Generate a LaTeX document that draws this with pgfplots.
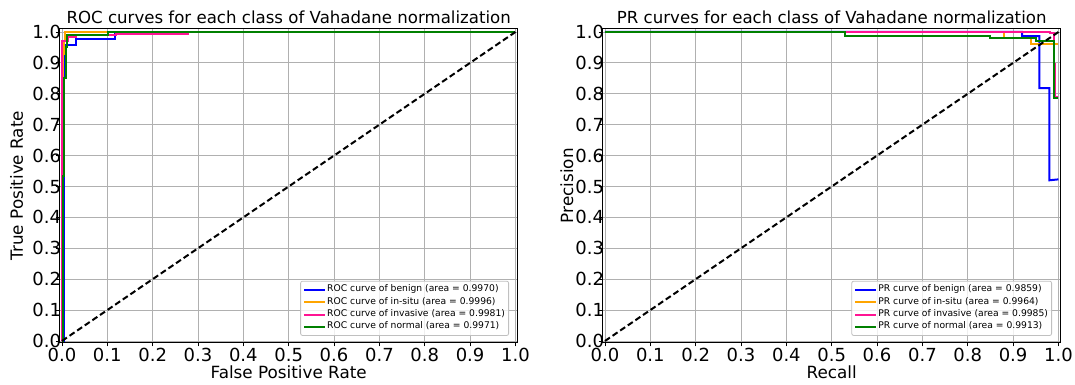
\documentclass[border=0pt]{standalone}
\usepackage{fontspec}
\setmainfont{DejaVu Sans}
\usepackage{pgfplots}
\pgfplotsset{compat=1.18}
\definecolor{mblue}{RGB}{0,0,255}
\definecolor{morange}{RGB}{255,165,0}
\definecolor{mpink}{RGB}{255,20,147}
\definecolor{mgreen}{RGB}{0,128,0}
\definecolor{gridgray}{RGB}{176,176,176}
\pgfplotsset{
  myax/.style={
    scale only axis, width=229pt, height=156.8pt,
    xmin=-0.005, xmax=1.005, ymin=-0.005, ymax=1.01,
    xtick={0,0.1,...,1.0}, ytick={0,0.1,...,1.0},
    xticklabel style={inner sep=0.8pt, /pgf/number format/fixed,/pgf/number format/fixed zerofill,/pgf/number format/precision=1},
    yticklabel style={inner sep=0.5pt, xshift=3.4pt, /pgf/number format/fixed,/pgf/number format/fixed zerofill,/pgf/number format/precision=1},
    /pgf/number format/assume math mode=true,
    tick label style={font=\fontsize{9}{11}\selectfont},
    every axis x label/.style={at={(axis description cs:0.5,-0.094)}, anchor=center, text depth=0pt, font=\fontsize{8.4}{10}\selectfont},
    every axis title/.style={at={(axis description cs:0.5,1)}, anchor=base, yshift=2.8pt, font=\fontsize{8.3}{10}\selectfont},
    grid=major, major grid style={gridgray, line width=0.4pt},
    tick align=outside, major tick length=2pt, tick style={black, line width=0.4pt},
    axis line style={line width=0.5pt},
    xtick pos=bottom, ytick pos=left,
    legend cell align=left,
    legend style={at={(rel axis cs:0.981,0.021)}, anchor=south east,
      font=\fontsize{4.6}{5.6}\selectfont, draw=gridgray!80, fill=white, fill opacity=0.8, text opacity=1,
      rounded corners=1pt, row sep=0pt, inner sep=1.2pt, nodes={inner sep=0.6pt}},
    legend image code/.code={\draw[#1, line width=1pt] (0pt,0pt) -- (10.5pt,0pt);},
    every axis plot/.append style={line width=1pt},
  }
}
\begin{document}
\begin{tikzpicture}
\begin{axis}[myax, at={(29.85pt,21.25pt)}, anchor=south west,
  every axis y label/.style={at={(axis description cs:-0.094,0.5)}, rotate=90, anchor=center, font=\fontsize{8.4}{10}\selectfont},
  title={ROC curves for each class of Vahadane normalization},
  xlabel={False Positive Rate}, ylabel={True Positive Rate}]
\addplot[mblue] coordinates {(0,0)(0.004,0)(0.004,0.90)(0.006,0.90)(0.006,0.958)(0.030,0.958)(0.030,0.977)(0.117,0.977)(0.117,0.995)(0.120,0.995)(0.120,1)(1,1)};
\addlegendentry{ROC curve of benign (area = 0.9970)}
\addplot[morange] coordinates {(0,0)(0.002,0)(0.002,0.93)(0.004,0.93)(0.004,0.97)(0.007,0.97)(0.007,1)(1,1)};
\addlegendentry{ROC curve of in-situ (area = 0.9996)}
\addplot[mpink] coordinates {(0,0)(0.001,0)(0.001,0.97)(0.014,0.97)(0.014,0.985)(0.030,0.985)(0.030,0.99)(0.120,0.99)(0.120,0.995)(0.278,0.995)(0.278,1)(1,1)};
\addlegendentry{ROC curve of invasive (area = 0.9981)}
\addplot[mgreen] coordinates {(0,0)(0.003,0)(0.003,0.534)(0.005,0.534)(0.005,0.852)(0.009,0.852)(0.009,0.95)(0.012,0.95)(0.012,0.99)(0.101,0.99)(0.101,1)(1,1)};
\addlegendentry{ROC curve of normal (area = 0.9971)}
\addplot[black, dashed, dash pattern=on 3pt off 1.6pt, forget plot] coordinates {(0,0)(1,1)};
\end{axis}
\begin{axis}[myax, at={(301.35pt,21.25pt)}, anchor=south west,
  every axis y label/.style={at={(axis description cs:-0.078,0.5)}, rotate=90, anchor=center, font=\fontsize{8.4}{10}\selectfont},
  title={PR curves for each class of Vahadane normalization},
  xlabel={Recall}, ylabel={Precision}]
\addplot[mblue] coordinates {(0,1)(0.92,1)(0.92,0.987)(0.958,0.987)(0.958,0.818)(0.98,0.818)(0.98,0.52)(1,0.523)};
\addlegendentry{PR curve of benign (area = 0.9859)}
\addplot[morange] coordinates {(0,1)(0.88,1)(0.88,0.979)(0.94,0.979)(0.94,0.961)(1,0.961)};
\addlegendentry{PR curve of in-situ (area = 0.9964)}
\addplot[mpink] coordinates {(0,1)(0.982,1)(0.982,0.997)(0.991,0.997)(0.991,0.895)(0.993,0.895)(0.993,0.79)(1,0.79)};
\addlegendentry{PR curve of invasive (area = 0.9985)}
\addplot[mgreen] coordinates {(0,1)(0.53,1)(0.53,0.988)(0.85,0.988)(0.85,0.982)(0.95,0.982)(0.95,0.972)(0.99,0.972)(0.99,0.785)(1,0.785)};
\addlegendentry{PR curve of normal (area = 0.9913)}
\addplot[black, dashed, dash pattern=on 3pt off 1.6pt, forget plot] coordinates {(0,0)(1,1)};
\end{axis}
\pgfresetboundingbox
\path (0,0) rectangle (537.5pt,192.5pt);
\end{tikzpicture}
\end{document}
